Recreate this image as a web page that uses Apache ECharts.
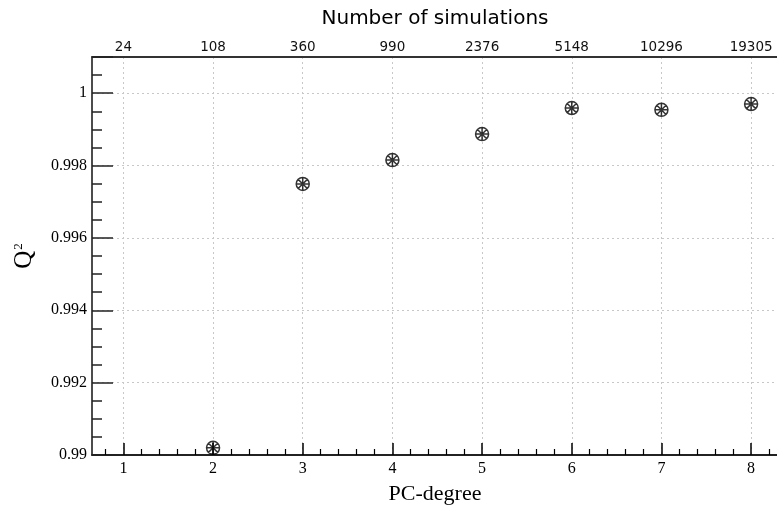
<!DOCTYPE html>
<html>
<head>
<meta charset="utf-8">
<script src="https://cdn.jsdelivr.net/npm/echarts@6/dist/echarts.min.js"></script>
<style>html,body{margin:0;padding:0;background:#fff}#c{width:777px;height:506px}</style>
</head>
<body>
<div id="c"></div>
<script>
var pcDegrees = [2, 3, 4, 5, 6, 7, 8];
var q2Values = [0.9902, 0.99749, 0.99815, 0.99887, 0.99959, 0.99954, 0.99970];
var tickDegrees = [1, 2, 3, 4, 5, 6, 7, 8];
var simulationLabels = ['24', '108', '360', '990', '2376', '5148', '10296', '19305'];

// fine positional scale for the PC-degree axis (0.65 .. 8.30, step 0.05)
var axisSlots = [];
for (var i = 0; i <= 153; i++) axisSlots.push((0.65 + i * 0.05).toFixed(2));

function isWhole(name) { var v = parseFloat(name); return Math.abs(v - Math.round(v)) < 1e-6; }
function isFifth(name) { var v = parseFloat(name) * 5; return Math.abs(v - Math.round(v)) < 1e-6; }

var chart = echarts.init(document.getElementById('c'), null, {renderer: 'canvas'});
var serif = 'Liberation Serif';
var sans = 'DejaVu Sans';
var markerPath = 'path://M0,-10A10,10 0 1,1 0,10A10,10 0 1,1 0,-10Z M-10,0L10,0 M0,-10L0,10 M-7.07,-7.07L7.07,7.07 M-7.07,7.07L7.07,-7.07';

chart.setOption({
  animation: false,
  backgroundColor: '#fff',
  grid: {left: 92, right: -1, top: 57, bottom: 51, containLabel: false, outerBoundsMode: 'none'},
  xAxis: [{
    type: 'category', data: axisSlots, boundaryGap: false, position: 'bottom',
    name: 'PC-degree', nameLocation: 'middle', nameGap: 28,
    nameTextStyle: {fontFamily: serif, fontSize: 22, color: '#000'},
    axisLine: {show: true, onZero: false, lineStyle: {color: '#222', width: 2}},
    axisTick: {show: true, inside: true, length: 12, interval: function (idx, name) { return isWhole(name); },
      lineStyle: {color: '#000', width: 1.5}},
    axisLabel: {show: true, fontFamily: serif, fontSize: 16, color: '#000', margin: 6,
      interval: function (idx, name) { return isWhole(name); },
      formatter: function (name) { return String(Math.round(parseFloat(name))); }},
    splitLine: {show: true, interval: function (idx, name) { return isWhole(name); },
      lineStyle: {color: '#c8c8c8', type: [2, 3], width: 1}}
  }, {
    type: 'category', data: axisSlots, boundaryGap: false, position: 'bottom',
    axisLine: {show: false},
    axisTick: {show: true, inside: true, length: 6, interval: function (idx, name) { return isFifth(name) && !isWhole(name); },
      lineStyle: {color: '#000', width: 1.2}},
    axisLabel: {show: false},
    splitLine: {show: false}
  }, {
    type: 'category', data: axisSlots, boundaryGap: false, position: 'top',
    name: 'Number of simulations', nameLocation: 'middle', nameGap: 28,
    nameTextStyle: {fontFamily: sans, fontSize: 20, color: '#000'},
    axisLine: {show: true, onZero: false, lineStyle: {color: '#333', width: 2}},
    axisTick: {show: false},
    axisLabel: {show: true, fontFamily: sans, fontSize: 13.5, color: '#111', margin: 3,
      interval: function (idx, name) { return isWhole(name); },
      formatter: function (name) { var i = tickDegrees.indexOf(Math.round(parseFloat(name))); return i >= 0 ? simulationLabels[i] : ''; }},
    splitLine: {show: false}
  }],
  yAxis: {
    type: 'value', min: 0.99, max: 1.001, interval: 0.002,
    name: '{q|Q}{s|2}', nameLocation: 'middle', nameGap: 55, nameRotate: 90,
    nameTextStyle: {fontFamily: serif, fontSize: 25, color: '#000',
      rich: {
        q: {fontFamily: serif, fontSize: 25, color: '#000'},
        s: {fontFamily: serif, fontSize: 13, color: '#000', padding: [0, 0, 11, 1]}
      }},
    axisLine: {show: true, onZero: false, lineStyle: {color: '#111', width: 1.5}},
    axisTick: {show: true, inside: true, length: 21, lineStyle: {color: '#222', width: 1.5}},
    minorTick: {show: true, splitNumber: 4, length: 10, lineStyle: {color: '#222', width: 1.5}},
    axisLabel: {fontFamily: serif, fontSize: 16, color: '#000', margin: 5, showMaxLabel: false,
      formatter: function (v) { return String(parseFloat(v.toFixed(4))); }},
    splitLine: {show: true, lineStyle: {color: '#c8c8c8', type: [2, 3], width: 1}}
  },
  series: [{
    type: 'scatter',
    xAxisIndex: 0,
    data: pcDegrees.map(function (d, i) { return [d.toFixed(2), q2Values[i]]; }),
    symbol: markerPath,
    symbolSize: 13,
    itemStyle: {color: 'rgba(0,0,0,0)', borderColor: '#000', borderWidth: 1.5},
    z: 10
  }]
});
</script>
</body>
</html>
